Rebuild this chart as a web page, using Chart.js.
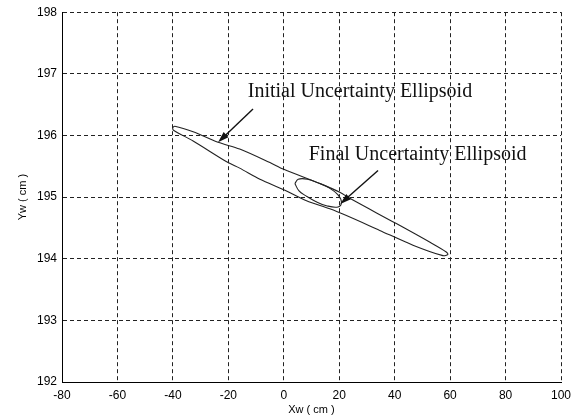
<!DOCTYPE html>
<html>
<head>
<meta charset="utf-8">
<script src="https://cdn.jsdelivr.net/npm/chart.js@4/dist/chart.umd.min.js"></script>
<style>
  html, body { margin: 0; padding: 0; background: #fff; }
  #wrap { width: 580px; height: 417px; }
</style>
</head>
<body>
<div id="wrap"><canvas id="ellipseChart"></canvas></div>
<script>
// axis ticks
const xTicks = [-80, -60, -40, -20, 0, 20, 40, 60, 80, 100];
const yTicks = [192, 193, 194, 195, 196, 197, 198];

// initial uncertainty ellipse outline
const initialX = [-40.1, -39.3, -32.7, -23.7, -15.9, -5.0, 0.0, 13.0, 20.2, 23.8, 40.6, 52.6, 58.6, 59.2,
                  57.4, 46.6, 34.6, 22.6, 16.6, 8.2, 0.0, -8.6, -15.9, -20.1, -32.7, -39.9, -40.1];
const initialY = [196.13, 196.15, 196.06, 195.89, 195.78, 195.56, 195.45, 195.22, 195.08, 194.98, 194.57, 194.27, 194.11, 194.07,
                  194.05, 194.22, 194.46, 194.70, 194.81, 194.94, 195.12, 195.29, 195.47, 195.56, 195.91, 196.09, 196.13];

// final uncertainty ellipse outline
const finalX = [4.0, 5.2, 8.5, 13.0, 16.0, 19.5, 20.8, 19.6, 15.4, 11.5, 8.0, 5.5, 4.0];
const finalY = [195.22, 195.29, 195.29, 195.22, 195.16, 195.04, 194.92, 194.84, 194.86, 194.93, 195.02, 195.10, 195.22];

// annotation labels and arrows (data units)
const labelText = ['Initial Uncertainty Ellipsoid', 'Final Uncertainty Ellipsoid'];
const labelX = [-13.0, 9.0];
const labelY = [196.63, 195.60];
const arrowFromX = [-11.1, 34.0];
const arrowFromY = [196.43, 195.43];
const arrowToX = [-23.7, 20.4];
const arrowToY = [195.89, 194.89];

const toPoints = (xs, ys) => xs.map((x, i) => ({ x: x, y: ys[i] }));

const annotations = {
    id: 'annotations',
    afterDatasetsDraw(chart) {
        const c = chart.ctx;
        const sx = chart.scales.x, sy = chart.scales.y;
        c.save();
        c.fillStyle = '#111';
        c.strokeStyle = '#111';
        c.font = '20px "Liberation Serif", "Times New Roman", serif';
        c.textBaseline = 'alphabetic';
        labelText.forEach((t, i) => {
            c.fillText(t, sx.getPixelForValue(labelX[i]), sy.getPixelForValue(labelY[i]));
        });
        // arrows
        arrowFromX.forEach((fx, i) => {
            const x0 = sx.getPixelForValue(fx), y0 = sy.getPixelForValue(arrowFromY[i]);
            const x1 = sx.getPixelForValue(arrowToX[i]), y1 = sy.getPixelForValue(arrowToY[i]);
            const ang = Math.atan2(y1 - y0, x1 - x0);
            const len = 11, half = 3.5;
            c.lineWidth = 1.4;
            c.beginPath();
            c.moveTo(x0, y0);
            c.lineTo(x1 - Math.cos(ang) * len * 0.8, y1 - Math.sin(ang) * len * 0.8);
            c.stroke();
            const bx = x1 - Math.cos(ang) * len, by = y1 - Math.sin(ang) * len;
            c.beginPath();
            c.moveTo(x1, y1);
            c.lineTo(bx + Math.sin(ang) * half, by - Math.cos(ang) * half);
            c.lineTo(bx - Math.sin(ang) * half, by + Math.cos(ang) * half);
            c.closePath();
            c.fill();
        });
        c.restore();
    }
};

const tickFont = { family: '"Liberation Sans", Arial, sans-serif', size: 12 };
const gridColor = (min) => (ctx) => (ctx.tick && ctx.tick.value === min ? 'rgba(0,0,0,0)' : '#222');

new Chart(document.getElementById('ellipseChart'), {
    type: 'scatter',
    data: {
        datasets: [
            {
                label: 'Initial',
                data: toPoints(initialX, initialY),
                showLine: true,
                borderColor: '#222',
                borderWidth: 1.1,
                pointRadius: 0,
                tension: 0.3,
                fill: false
            },
            {
                label: 'Final',
                data: toPoints(finalX, finalY),
                showLine: true,
                borderColor: '#222',
                borderWidth: 1.1,
                pointRadius: 0,
                tension: 0.4,
                fill: false
            }
        ]
    },
    options: {
        responsive: true,
        maintainAspectRatio: false,
        animation: false,
        layout: { padding: { top: 11, right: 19, left: 0, bottom: 0 } },
        plugins: {
            legend: { display: false },
            tooltip: { enabled: false }
        },
        scales: {
            x: {
                type: 'linear',
                min: -80,
                max: 100,
                afterBuildTicks: (axis) => { axis.ticks = xTicks.map(v => ({ value: v })); },
                afterFit: (axis) => { axis.height = 35; },
                ticks: { color: '#000', font: tickFont, padding: 6, maxRotation: 0 },
                grid: { color: gridColor(-80), lineWidth: 1, drawTicks: false },
                border: { display: true, color: '#000', width: 1, dash: [4, 3] },
                title: {
                    display: true,
                    text: 'Xw ( cm )',
                    color: '#000',
                    font: { family: '"Liberation Sans", Arial, sans-serif', size: 11 },
                    padding: { top: 0, bottom: 0 }
                }
            },
            y: {
                type: 'linear',
                min: 192,
                max: 198,
                afterBuildTicks: (axis) => { axis.ticks = yTicks.map(v => ({ value: v })); },
                afterFit: (axis) => { axis.width = 62; },
                ticks: { color: '#000', font: tickFont, padding: 5 },
                grid: { color: gridColor(192), lineWidth: 1, drawTicks: false },
                border: { display: true, color: '#000', width: 1, dash: [4, 3] },
                title: {
                    display: true,
                    text: 'Yw ( cm )',
                    color: '#000',
                    font: { family: '"Liberation Sans", Arial, sans-serif', size: 11 },
                    padding: { top: 16, bottom: 0 }
                }
            }
        }
    },
    plugins: [annotations]
});
</script>
</body>
</html>
